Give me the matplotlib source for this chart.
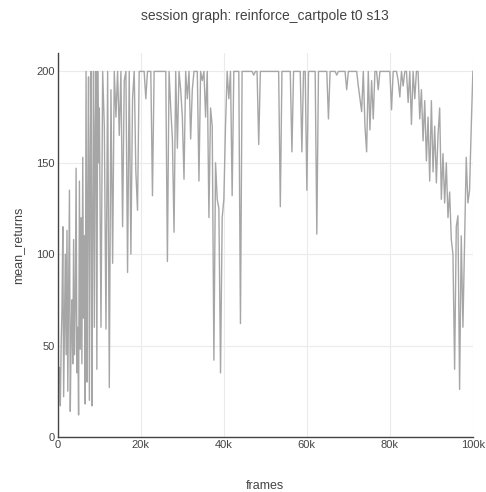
import matplotlib
matplotlib.use("Agg")
import matplotlib.pyplot as plt
from matplotlib.ticker import FuncFormatter
import numpy as np

plt.rcParams["font.family"] = ["Liberation Sans", "DejaVu Sans"]

# mean_returns: every 200 frames up to 10k, then every 400
early_returns = [
    20, 35, 38, 17, 50, 70, 115, 22, 60, 100,
    45, 113, 25, 80, 135, 14, 55, 75, 40, 108,
    45, 70, 147, 35, 60, 12, 140, 48, 120, 40,
    153, 65, 110, 18, 200, 30, 130, 197, 20, 150,
    200, 17, 120, 200, 60, 170, 200, 37, 200, 150,
]
late_returns = [
    180, 60, 200, 170, 59,
    200, 27, 190, 95, 200, 175, 200, 165, 200, 115,
    195, 200, 90, 200, 100, 185, 200, 145, 124, 200,
    200, 200, 200, 185, 200, 200, 200, 132, 200, 200,
    200, 200, 200, 200, 200, 200, 96, 200, 180, 163,
    112, 200, 158, 200, 190, 175, 141, 200, 185, 200,
    163, 190, 200, 200, 200, 140, 200, 195, 200, 175,
    200, 120, 180, 170, 42, 150, 130, 125, 35, 120,
    130, 170, 200, 185, 200, 132, 200, 200, 200, 200,
    62, 200, 200, 200, 200, 200, 200, 200, 198, 200,
    200, 160, 200, 200, 200, 200, 200, 200, 200, 200,
    200, 200, 200, 200, 126, 200, 200, 200, 200, 200,
    200, 156, 200, 200, 200, 200, 200, 156, 200, 200,
    135, 200, 200, 200, 200, 200, 111, 200, 200, 200,
    200, 200, 200, 174, 200, 200, 200, 200, 198, 200,
    200, 200, 200, 200, 190, 200, 200, 200, 200, 200,
    200, 192, 185, 178, 200, 170, 156, 200, 168, 195,
    174, 200, 200, 190, 200, 200, 200, 200, 200, 200,
    200, 179, 200, 200, 200, 195, 186, 200, 192, 200,
    200, 183, 200, 171, 200, 185, 200, 200, 174, 190,
    162, 184, 151, 175, 140, 184, 145, 170, 139, 165,
    180, 130, 155, 128, 150, 120, 134, 108, 100, 37,
    115, 121, 26, 110, 60, 108, 153, 128, 135, 169,
    200,
]
frames = np.concatenate([
    np.arange(len(early_returns)) * 200,
    10000 + np.arange(len(late_returns)) * 400,
])
mean_returns = early_returns + late_returns

fig = plt.figure(figsize=(4.86, 4.92), dpi=100)
ax = fig.add_axes([0.119, 0.112, 0.854, 0.780])

ax.plot(frames, mean_returns, color="#a6a6a6", linewidth=1.0)

ax.set_xlim(0, 100000)
ax.set_ylim(0, 210)
ax.set_xticks([0, 20000, 40000, 60000, 80000, 100000])
ax.set_yticks([0, 50, 100, 150, 200])
ax.xaxis.set_major_formatter(FuncFormatter(lambda v, p: "0" if v == 0 else f"{int(v/1000)}k"))
ax.grid(True, color="#ebebeb", linewidth=0.8)
ax.set_axisbelow(True)
ax.tick_params(length=0, labelsize=8, colors="#444444", pad=2)

for side in ["top", "right"]:
    ax.spines[side].set_visible(False)
for side in ["left", "bottom"]:
    ax.spines[side].set_color("#444444")
    ax.spines[side].set_linewidth(1.0)

ax.set_title("session graph: reinforce_cartpole t0 s13", fontsize=10, color="#444444", pad=24)
ax.set_xlabel("frames", fontsize=9, color="#444444", labelpad=22)
ax.set_ylabel("mean_returns", fontsize=9, color="#444444", labelpad=8)

fig.savefig("out.png", dpi=100)
